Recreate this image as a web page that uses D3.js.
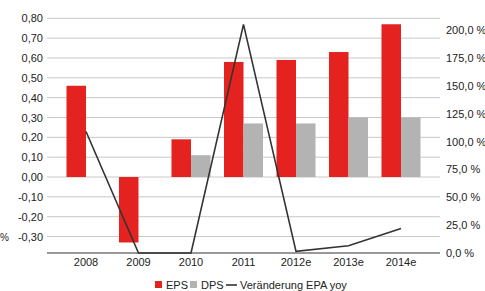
<!DOCTYPE html>
<html><head><meta charset="utf-8">
<script src="https://cdn.jsdelivr.net/npm/d3@7"></script>
<style>body{margin:0;background:#fff}svg{display:block;font-family:"Liberation Sans",Arial,sans-serif}</style>
</head><body><svg id="c" width="485" height="291"></svg>
<script>
const categories = ["2008","2009","2010","2011","2012e","2013e","2014e"];
const eps = [0.46,-0.33,0.19,0.58,0.59,0.63,0.77];
const dps = [0,0,0.11,0.27,0.27,0.30,0.30];
const epaYoy = [109,0,0,205,1.5,6.5,22];
const leftTicks = [-0.3,-0.2,-0.1,0,0.1,0.2,0.3,0.4,0.5,0.6,0.7,0.8];
const rightTicks = [0,25,50,75,100,125,150,175,200];
const seriesNames = ["EPS","DPS","Veränderung EPA yoy"];

const svg = d3.select("#c");
const x0 = d3.scaleBand().domain(categories).range([59.75,427.25]).paddingInner(0.257).paddingOuter(0.1285);
const x1 = d3.scaleBand().domain(["EPS","DPS"]).range([0,x0.bandwidth()]);
const yL = d3.scaleLinear().domain([-0.383,0.8]).range([253,18.3]);
const yR = d3.scaleLinear().domain([0,200]).range([253,30]);
const fmtL = v => d3.format(".2f")(v).replace(".",",").replace("−","-");
const fmtR = v => d3.format(".1f")(v).replace(".",",") + " %";

// gridlines
svg.append("g").selectAll("line").data(leftTicks).join("line")
  .attr("x1",47).attr("x2",440).attr("y1",d=>yL(d)).attr("y2",d=>yL(d))
  .attr("stroke","#c8c8c8").attr("stroke-width",1);

// left axis labels
const gl = svg.append("g").attr("transform","translate(47,0)")
  .call(d3.axisLeft(yL).tickValues(leftTicks).tickFormat(fmtL).tickSize(0).tickPadding(4));
gl.select(".domain").remove();
gl.selectAll("text").attr("font-size",11).attr("fill","#222").attr("font-family","Liberation Sans, Arial, sans-serif");

// right axis labels
const gr = svg.append("g").attr("transform","translate(440,0)")
  .call(d3.axisRight(yR).tickValues(rightTicks).tickFormat(fmtR).tickSize(0).tickPadding(6));
gr.select(".domain").remove();
gr.selectAll("text").attr("font-size",11).attr("fill","#222").attr("font-family","Liberation Sans, Arial, sans-serif");

// bars
const rows = categories.map((c,i)=>({c, EPS:eps[i], DPS:dps[i]}));
const colors = {EPS:"#e42320", DPS:"#b3b3b3"};
const g = svg.append("g");
rows.forEach(r=>{
  ["EPS","DPS"].forEach(k=>{
    const v = r[k]; if (v===0) return;
    g.append("rect")
      .attr("x", x0(r.c)+x1(k)).attr("width", x1.bandwidth())
      .attr("y", yL(Math.max(0,v))).attr("height", Math.abs(yL(v)-yL(0)))
      .attr("fill", colors[k]);
  });
});

// x axis
const gx = svg.append("g").attr("transform","translate(0,253)")
  .call(d3.axisBottom(x0).tickSize(0).tickPadding(5));
gx.select(".domain").remove();
gx.selectAll("text").attr("font-size",11).attr("fill","#222").attr("font-family","Liberation Sans, Arial, sans-serif");
svg.append("line").attr("x1",47).attr("x2",440).attr("y1",253).attr("y2",253).attr("stroke","#333").attr("stroke-width",1.2);

// line
const line = d3.line().x((d,i)=>x0(categories[i])+x0.bandwidth()/2).y(d=>yR(d));
svg.append("path").datum(epaYoy).attr("d",line).attr("fill","none").attr("stroke","#333").attr("stroke-width",1.6);

// % label at left
svg.append("text").attr("x",0).attr("y",241).attr("font-size",10).attr("fill","#222").text("%");

// legend
const lg = svg.append("g").attr("font-size",11).attr("fill","#222");
lg.append("rect").attr("x",155).attr("y",281).attr("width",7).attr("height",7).attr("fill",colors.EPS);
lg.append("text").attr("x",166).attr("y",289).text(seriesNames[0]);
lg.append("rect").attr("x",190).attr("y",281).attr("width",7).attr("height",7).attr("fill",colors.DPS);
lg.append("text").attr("x",201).attr("y",289).text(seriesNames[1]);
lg.append("line").attr("x1",226).attr("x2",237).attr("y1",285).attr("y2",285).attr("stroke","#333").attr("stroke-width",1.6);
lg.append("text").attr("x",240).attr("y",289).text(seriesNames[2]);
</script></body></html>
